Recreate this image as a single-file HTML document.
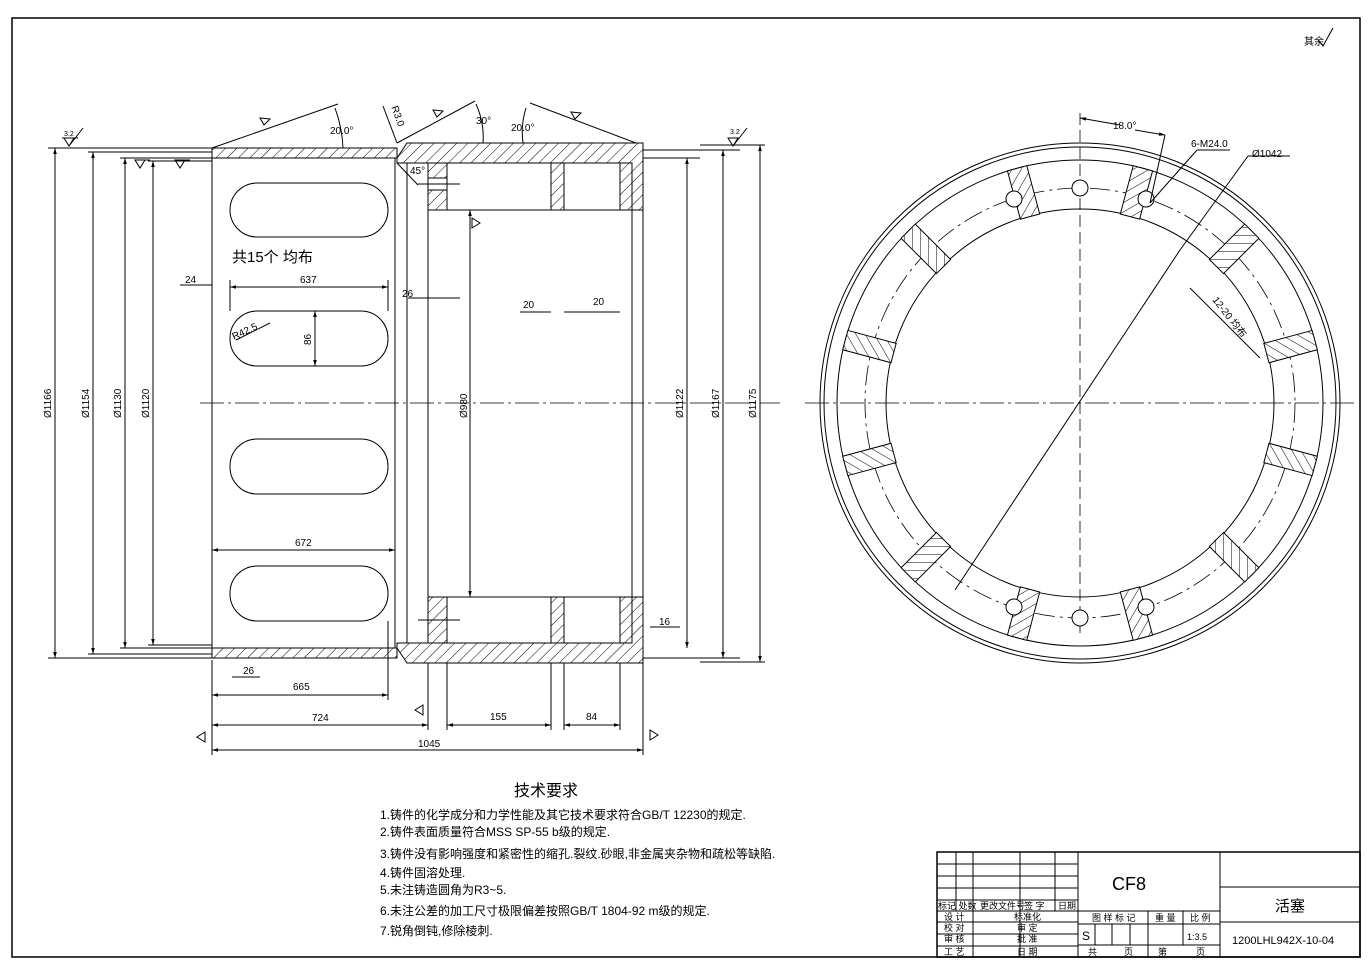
<!DOCTYPE html>
<html><head><meta charset="utf-8"><style>
html,body{margin:0;padding:0;background:#fff}
svg{display:block}
text{font-family:"Liberation Sans","Noto Sans CJK SC",sans-serif;fill:#000}
</style></head><body>
<svg width="1372" height="963" viewBox="0 0 1372 963" xmlns="http://www.w3.org/2000/svg">
<defs>
<pattern id="h" width="8" height="8" patternUnits="userSpaceOnUse" patternTransform="rotate(45)">
<rect width="8" height="8" fill="#fff"/><line x1="0" y1="0" x2="0" y2="8" stroke="#000" stroke-width="1"/></pattern>
<marker id="a" viewBox="0 0 10 10" refX="10" refY="5" markerWidth="8" markerHeight="6" orient="auto-start-reverse"><path d="M0,2 L10,5 L0,8z" fill="#000"/></marker>
</defs>
<rect x="12" y="18" width="1348" height="939" fill="none" stroke="#000" stroke-width="1.5"/>
<text x="1304" y="45" font-size="10">其余</text>
<path d="M1318,40 l5,6 l10,-18" fill="none" stroke="#000"/>

<g stroke="#000" fill="none" stroke-width="1">
<!-- left section band -->
<rect x="212" y="148" width="185" height="10" fill="url(#h)"/>
<rect x="212" y="648" width="185" height="10" fill="url(#h)"/>
<line x1="212" y1="148" x2="212" y2="658"/>
<line x1="395" y1="158" x2="395" y2="648"/>
<line x1="407" y1="158" x2="407" y2="648"/>
<!-- right section -->
<path d="M397,158 L407,143 L643,143 L643,210 L632,210 L632,163 L397,163z" fill="url(#h)"/>
<rect x="428" y="163" width="19" height="47" fill="url(#h)"/>
<rect x="551" y="163" width="13" height="47" fill="url(#h)"/>
<rect x="620" y="163" width="12" height="47" fill="url(#h)"/>
<path d="M397,648 L407,663 L643,663 L643,597 L632,597 L632,643 L397,643z" fill="url(#h)"/>
<rect x="428" y="597" width="19" height="46" fill="url(#h)"/>
<rect x="551" y="597" width="13" height="46" fill="url(#h)"/>
<rect x="620" y="597" width="12" height="46" fill="url(#h)"/>
<rect x="428" y="178" width="19" height="12" fill="#fff"/>
<line x1="418" y1="184" x2="460" y2="184"/>
<line x1="418" y1="620" x2="460" y2="620"/>
<line x1="428" y1="210" x2="428" y2="597"/>
<line x1="447" y1="210" x2="620" y2="210"/>
<line x1="447" y1="597" x2="620" y2="597"/>
<line x1="632" y1="210" x2="632" y2="597"/>
<line x1="643" y1="210" x2="643" y2="597"/>
<line x1="643" y1="150" x2="740" y2="150"/>
<line x1="643" y1="158" x2="700" y2="158"/>
<line x1="643" y1="658" x2="740" y2="658"/>
<!-- slots -->
<rect x="230" y="183" width="158" height="54" rx="27"/>
<rect x="230" y="311" width="158" height="55" rx="27"/>
<rect x="230" y="439" width="158" height="55" rx="27"/>
<rect x="230" y="566" width="158" height="55" rx="27"/>
<!-- center line -->
<line x1="200" y1="403" x2="780" y2="403" stroke-dasharray="24,4,3,4" stroke-width="0.8"/>
<!-- left ext lines -->
<line x1="48" y1="148" x2="212" y2="148"/><line x1="48" y1="658" x2="212" y2="658"/>
<line x1="88" y1="152" x2="212" y2="152"/><line x1="88" y1="654" x2="212" y2="654"/>
<line x1="120" y1="158" x2="212" y2="158"/><line x1="120" y1="648" x2="212" y2="648"/>
<line x1="148" y1="161" x2="212" y2="161"/><line x1="148" y1="645" x2="212" y2="645"/>
<g marker-start="url(#a)" marker-end="url(#a)">
<line x1="55" y1="148" x2="55" y2="658"/>
<line x1="93" y1="152" x2="93" y2="654"/>
<line x1="125" y1="158" x2="125" y2="648"/>
<line x1="153" y1="161" x2="153" y2="645"/>
<line x1="687" y1="158" x2="687" y2="648"/>
<line x1="723" y1="150" x2="723" y2="658"/>
<line x1="760" y1="145" x2="760" y2="662"/>
<line x1="470" y1="210" x2="470" y2="597"/>
<line x1="230" y1="287" x2="388" y2="287"/>
<line x1="212" y1="550" x2="395" y2="550"/>
<line x1="212" y1="695" x2="388" y2="695"/>
<line x1="212" y1="725" x2="428" y2="725"/>
<line x1="212" y1="750" x2="643" y2="750"/>
<line x1="447" y1="725" x2="551" y2="725"/>
<line x1="564" y1="725" x2="620" y2="725"/>
<line x1="315" y1="311" x2="315" y2="366"/>
</g>
<line x1="700" y1="145" x2="765" y2="145"/><line x1="700" y1="662" x2="765" y2="662"/>
<line x1="212" y1="660" x2="212" y2="755"/><line x1="388" y1="621" x2="388" y2="700"/>
<line x1="428" y1="663" x2="428" y2="730"/><line x1="447" y1="663" x2="447" y2="730"/>
<line x1="551" y1="663" x2="551" y2="730"/><line x1="564" y1="663" x2="564" y2="730"/>
<line x1="620" y1="663" x2="620" y2="730"/><line x1="643" y1="663" x2="643" y2="755"/>
<line x1="230" y1="280" x2="230" y2="311"/><line x1="388" y1="280" x2="388" y2="311"/>
<line x1="395" y1="545" x2="395" y2="555"/>
<line x1="180" y1="285" x2="212" y2="285"/>
<line x1="408" y1="298" x2="460" y2="298"/><line x1="520" y1="312" x2="551" y2="312"/><line x1="564" y1="312" x2="620" y2="312"/>
<line x1="232" y1="677" x2="260" y2="677"/>
<line x1="650" y1="627" x2="680" y2="627"/>
<line x1="236" y1="340" x2="270" y2="323"/>
<!-- angle lines -->
<line x1="212" y1="148" x2="338" y2="104"/>
<line x1="397" y1="143" x2="475" y2="101"/>
<line x1="530" y1="103" x2="636" y2="143"/>
<line x1="383" y1="106" x2="397" y2="143"/>
<path d="M335,108 A130,130 0 0 1 343,148" />
<path d="M476,104 A80,80 0 0 1 483,143"/>
<path d="M526,108 A80,80 0 0 0 523,143"/>
<line x1="397" y1="163" x2="418" y2="185"/>
<!-- roughness symbols -->
<path d="M64,138 l5,8 l5,-8z M69,146 l14,-18 M62,138 l16,0"/>
<path d="M728,138 l5,8 l5,-8z M733,146 l14,-18"/>
<path d="M135,160 l5,8 l5,-8z M135,160 h15"/>
<path d="M175,160 l5,8 l5,-8z M175,160 h15"/>
<path d="M472,228 l8,-5 l-8,-5z"/>
<path d="M423,705 l-8,5 l8,5z"/>
<path d="M205,732 l-8,5 l8,5z"/>
<path d="M650,740 l8,-5 l-8,-5z"/>
<path d="M260,118 l4,7 l6,-6z"/>
<path d="M433,110 l4,7 l6,-6z"/>
<path d="M571,112 l4,7 l6,-6z"/>
</g>
<g font-size="10">
<text x="330" y="134">20.0°</text><text x="476" y="124">30°</text><text x="511" y="131">20.0°</text>
<text x="388" y="112" transform="rotate(70 393 112)">R3.0</text>
<text x="410" y="174">45°</text>
<text x="232" y="262" font-size="15">共15个 均布</text>
<text x="185" y="283">24</text><text x="300" y="283">637</text><text x="402" y="297">26</text>
<text x="523" y="308">20</text><text x="593" y="305">20</text>
<text x="295" y="546">672</text><text x="243" y="674">26</text><text x="293" y="690">665</text>
<text x="312" y="721">724</text><text x="490" y="720">155</text><text x="586" y="720">84</text><text x="418" y="747">1045</text>
<text x="659" y="625">16</text>
<text x="234" y="340" transform="rotate(-25 234 340)">R42.5</text>
<text x="0" y="0" transform="translate(311,345) rotate(-90)">86</text>
<text transform="translate(51,418) rotate(-90)">Ø1166</text>
<text transform="translate(89,418) rotate(-90)">Ø1154</text>
<text transform="translate(121,418) rotate(-90)">Ø1130</text>
<text transform="translate(149,418) rotate(-90)">Ø1120</text>
<text transform="translate(467,418) rotate(-90)">Ø980</text>
<text transform="translate(683,418) rotate(-90)">Ø1122</text>
<text transform="translate(719,418) rotate(-90)">Ø1167</text>
<text transform="translate(756,418) rotate(-90)">Ø1175</text>
<text x="64" y="136" font-size="7">3.2</text><text x="730" y="134" font-size="7">3.2</text>
</g>

<!-- right view -->
<g stroke="#000" fill="none" stroke-width="1" transform="translate(1080,403)">
<circle r="260"/><circle r="256"/><circle r="243"/><circle r="194"/>
<circle r="215" stroke-dasharray="20,5,3,5" stroke-width="0.8"/>
<line x1="-275" y1="0" x2="275" y2="0" stroke-dasharray="24,4,3,4" stroke-width="0.8"/>
<line x1="0" y1="-290" x2="0" y2="230" stroke-dasharray="12,5" stroke-width="0.8"/>
<g fill="url(#h)">
<rect x="-10" y="-243" width="20" height="50" transform="rotate(15)"/>
<rect x="-10" y="-243" width="20" height="50" transform="rotate(45)"/>
<rect x="-10" y="-243" width="20" height="50" transform="rotate(75)"/>
<rect x="-10" y="-243" width="20" height="50" transform="rotate(105)"/>
<rect x="-10" y="-243" width="20" height="50" transform="rotate(135)"/>
<rect x="-10" y="-243" width="20" height="50" transform="rotate(165)"/>
<rect x="-10" y="-243" width="20" height="50" transform="rotate(195)"/>
<rect x="-10" y="-243" width="20" height="50" transform="rotate(225)"/>
<rect x="-10" y="-243" width="20" height="50" transform="rotate(255)"/>
<rect x="-10" y="-243" width="20" height="50" transform="rotate(285)"/>
<rect x="-10" y="-243" width="20" height="50" transform="rotate(315)"/>
<rect x="-10" y="-243" width="20" height="50" transform="rotate(345)"/>
</g>
<g fill="#fff">
<circle cx="0" cy="-215" r="8"/><circle cx="66" cy="-204" r="8"/><circle cx="-66" cy="-204" r="8"/>
<circle cx="0" cy="215" r="8"/><circle cx="66" cy="204" r="8"/><circle cx="-66" cy="204" r="8"/>
</g>
<line x1="100" y1="-153" x2="-125" y2="187"/>
<line x1="0" y1="-285" x2="40" y2="-278" marker-start="url(#a)"/>
<line x1="55" y1="-273" x2="85" y2="-268" marker-end="url(#a)"/>
<line x1="85" y1="-268" x2="70" y2="-200"/>
<line x1="70" y1="-200" x2="117" y2="-253"/><line x1="117" y1="-253" x2="150" y2="-253"/>
<line x1="100" y1="-153" x2="168" y2="-247"/><line x1="168" y1="-247" x2="210" y2="-247"/>
<line x1="110" y1="-115" x2="180" y2="-45"/>
</g>
<g font-size="10">
<text x="1113" y="129">18.0°</text>
<text x="1191" y="147">6-M24.0</text>
<text x="1252" y="157">Ø1042</text>
<text x="1212" y="300" transform="rotate(52 1212 300)">12-20 均布</text>
</g>

<!-- tech requirements -->
<g font-size="12">
<text x="514" y="796" font-size="16">技术要求</text>
<text x="380" y="819">1.铸件的化学成分和力学性能及其它技术要求符合GB/T 12230的规定.</text>
<text x="380" y="836">2.铸件表面质量符合MSS SP-55 b级的规定.</text>
<text x="380" y="858">3.铸件没有影响强度和紧密性的缩孔.裂纹.砂眼,非金属夹杂物和疏松等缺陷.</text>
<text x="380" y="877">4.铸件固溶处理.</text>
<text x="380" y="894">5.未注铸造圆角为R3~5.</text>
<text x="380" y="915">6.未注公差的加工尺寸极限偏差按照GB/T 1804-92 m级的规定.</text>
<text x="380" y="935">7.锐角倒钝,修除棱刺.</text>
</g>

<!-- title block -->
<g stroke="#000" fill="none" stroke-width="1">
<rect x="937" y="852" width="423" height="105" stroke-width="1.5"/>
<line x1="1078" y1="852" x2="1078" y2="957"/>
<line x1="1220" y1="852" x2="1220" y2="957"/>
<line x1="937" y1="864" x2="1078" y2="864"/><line x1="937" y1="876" x2="1078" y2="876"/>
<line x1="937" y1="888" x2="1078" y2="888"/><line x1="937" y1="900" x2="1078" y2="900"/>
<line x1="937" y1="911" x2="1078" y2="911"/><line x1="937" y1="922" x2="1078" y2="922"/>
<line x1="937" y1="934" x2="1078" y2="934"/><line x1="937" y1="946" x2="1078" y2="946"/>
<line x1="956" y1="852" x2="956" y2="911"/><line x1="973" y1="852" x2="973" y2="957"/>
<line x1="1020" y1="852" x2="1020" y2="957"/><line x1="1055" y1="852" x2="1055" y2="911"/>
<line x1="1078" y1="911" x2="1220" y2="911"/><line x1="1078" y1="924" x2="1220" y2="924"/>
<line x1="1078" y1="945" x2="1220" y2="945"/>
<line x1="1148" y1="911" x2="1148" y2="957"/><line x1="1183" y1="911" x2="1183" y2="945"/>
<line x1="1095" y1="924" x2="1095" y2="945"/><line x1="1112" y1="924" x2="1112" y2="945"/><line x1="1130" y1="924" x2="1130" y2="945"/>
<line x1="1220" y1="887" x2="1360" y2="887"/><line x1="1220" y1="922" x2="1360" y2="922"/>
</g>
<g font-size="9">
<text x="1129" y="890" font-size="18" text-anchor="middle">CF8</text>
<text x="1290" y="911" font-size="15" text-anchor="middle">活塞</text>
<text x="1232" y="944" font-size="11">1200LHL942X-10-04</text>
<text x="938" y="909">标记 处数</text><text x="980" y="909">更改文件号</text><text x="1024" y="909">签 字</text><text x="1058" y="909">日期</text>
<text x="944" y="920">设 计</text><text x="1014" y="920">标准化</text>
<text x="944" y="931">校 对</text><text x="1017" y="931">审 定</text>
<text x="944" y="942">审 核</text><text x="1017" y="942">批 准</text>
<text x="944" y="955">工 艺</text><text x="1017" y="955">日 期</text>
<text x="1092" y="921">图 样 标 记</text><text x="1155" y="921">重 量</text><text x="1190" y="921">比 例</text>
<text x="1082" y="940" font-size="12">S</text><text x="1187" y="940">1:3.5</text>
<text x="1088" y="955">共</text><text x="1124" y="955">页</text><text x="1158" y="955">第</text><text x="1196" y="955">页</text>
</g>
</svg>
</body></html>
